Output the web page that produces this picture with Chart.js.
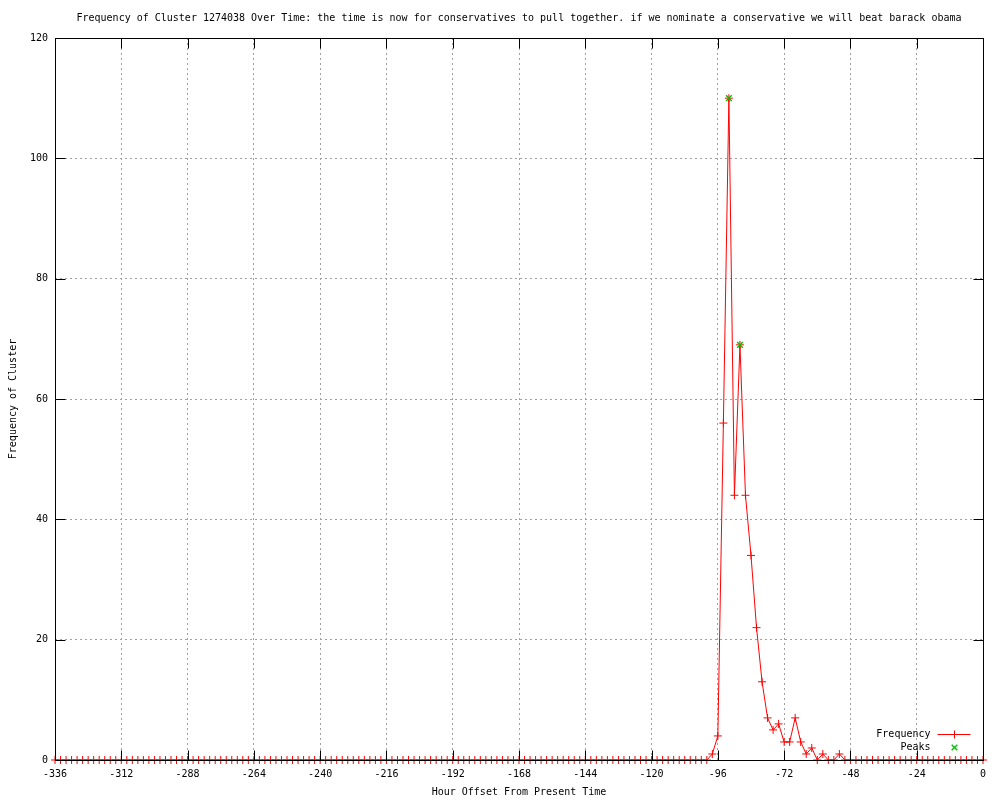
<!DOCTYPE html>
<html><head><meta charset="utf-8">
<script src="https://cdn.jsdelivr.net/npm/chart.js@4/dist/chart.umd.min.js"></script>
<style>html,body{margin:0;padding:0;background:#fff}#wrap{width:1000px;height:800px}</style>
</head><body><div id="wrap"><canvas id="c" width="1000" height="800"></canvas></div>
<script>
const chartTitle = "Frequency of Cluster 1274038 Over Time: the time is now for conservatives to pull together. if we nominate a conservative we will beat barack obama";
const xAxisTitle = "Hour Offset From Present Time";
const yAxisTitle = "Frequency of Cluster";

const hours = [
  -336,-334,-332,-330,-328,-326,-324,-322,-320,-318,-316,-314,
  -312,-310,-308,-306,-304,-302,-300,-298,-296,-294,-292,-290,
  -288,-286,-284,-282,-280,-278,-276,-274,-272,-270,-268,-266,
  -264,-262,-260,-258,-256,-254,-252,-250,-248,-246,-244,-242,
  -240,-238,-236,-234,-232,-230,-228,-226,-224,-222,-220,-218,
  -216,-214,-212,-210,-208,-206,-204,-202,-200,-198,-196,-194,
  -192,-190,-188,-186,-184,-182,-180,-178,-176,-174,-172,-170,
  -168,-166,-164,-162,-160,-158,-156,-154,-152,-150,-148,-146,
  -144,-142,-140,-138,-136,-134,-132,-130,-128,-126,-124,-122,
  -120,-118,-116,-114,-112,-110,-108,-106,-104,-102,-100,-98,
  -96,-94,-92,-90,-88,-86,-84,-82,-80,-78,-76,-74,
  -72,-70,-68,-66,-64,-62,-60,-58,-56,-54,-52,-50,
  -48,-46,-44,-42,-40,-38,-36,-34,-32,-30,-28,-26,
  -24,-22,-20,-18,-16,-14,-12,-10,-8,-6,-4,-2,
  0
];
const frequency = [
  0,0,0,0,0,0,0,0,0,0,0,0,
  0,0,0,0,0,0,0,0,0,0,0,0,
  0,0,0,0,0,0,0,0,0,0,0,0,
  0,0,0,0,0,0,0,0,0,0,0,0,
  0,0,0,0,0,0,0,0,0,0,0,0,
  0,0,0,0,0,0,0,0,0,0,0,0,
  0,0,0,0,0,0,0,0,0,0,0,0,
  0,0,0,0,0,0,0,0,0,0,0,0,
  0,0,0,0,0,0,0,0,0,0,0,0,
  0,0,0,0,0,0,0,0,0,0,0,1,
  4,56,110,44,69,44,34,22,13,7,5,6,
  3,3,7,3,1,2,0,1,0,0,1,0,
  0,0,0,0,0,0,0,0,0,0,0,0,
  0,0,0,0,0,0,0,0,0,0,0,0,
  0
];
const peakHours = [-92, -88];
const peakValues = [110, 69];
const xTickValues = [-336,-312,-288,-264,-240,-216,-192,-168,-144,-120,-96,-72,-48,-24,0];
const yTickValues = [0,20,40,60,80,100,120];

const RED = '#ff0000', GREEN = '#00c000';
const FONT = "'DejaVu Sans Mono', 'Liberation Mono', monospace";
Chart.defaults.font.family = FONT;
Chart.defaults.font.size = 10;
Chart.defaults.color = '#000';

const framePlugin = {
  id: 'frame',
  afterDatasetsDraw(chart) {
    const {ctx, chartArea: a, scales: {x, y}} = chart;
    const TL = 10;
    ctx.save();
    ctx.strokeStyle = '#000';
    ctx.lineWidth = 1;
    const L = Math.round(a.left) + 0.5, R = Math.round(a.right) + 0.5;
    const T = Math.round(a.top) + 0.5, B = Math.round(a.bottom) + 0.5;
    ctx.beginPath();
    ctx.rect(L, T, R - L, B - T);
    for (const v of xTickValues) {
      const px = Math.round(x.getPixelForValue(v)) + 0.5;
      ctx.moveTo(px, B); ctx.lineTo(px, B - TL);
      ctx.moveTo(px, T); ctx.lineTo(px, T + TL);
    }
    for (const v of yTickValues) {
      const py = Math.round(y.getPixelForValue(v)) + 0.5;
      ctx.moveTo(L, py); ctx.lineTo(L + TL, py);
      ctx.moveTo(R, py); ctx.lineTo(R - TL, py);
    }
    ctx.stroke();

    // title
    ctx.font = '10px ' + FONT;
    ctx.fillStyle = '#000';
    ctx.textAlign = 'center';
    ctx.textBaseline = 'middle';
    ctx.fillText(chartTitle, (a.left + a.right) / 2, 18);

    // legend (inside, bottom right)
    const ds = chart.data.datasets;
    const tx = R - 53, sx0 = R - 46, sx1 = R - 13, mx = R - 30;
    const rows = [B - 27, B - 14];
    ctx.textAlign = 'right';
    ds.forEach((d, i) => {
      const yy = rows[i];
      ctx.fillStyle = '#000';
      ctx.fillText(d.label, tx, yy + 0.5);
      ctx.strokeStyle = d.borderColor;
      ctx.lineWidth = 1;
      if (d.showLine !== false) {
        ctx.beginPath();
        ctx.moveTo(sx0, Math.round(yy) + 0.5); ctx.lineTo(sx1, Math.round(yy) + 0.5);
        ctx.stroke();
      }
      ctx.strokeStyle = d.pointBorderColor;
      ctx.fillStyle = d.pointBorderColor;
      ctx.lineWidth = d.pointBorderWidth;
      Chart.helpers.drawPoint(ctx, {pointStyle: d.pointStyle, radius: d.pointRadius, borderWidth: d.pointBorderWidth, rotation: 0}, Math.round(mx) + 0.5, Math.round(yy) + 0.5);
    });
    ctx.restore();
  }
};

new Chart(document.getElementById('c'), {
  type: 'line',
  data: {
    datasets: [
      {
        label: 'Frequency',
        data: hours.map((h, i) => ({x: h, y: frequency[i]})),
        borderColor: RED,
        backgroundColor: RED,
        borderWidth: 1,
        pointStyle: 'cross',
        pointRadius: 4,
        pointBorderColor: RED,
        pointBorderWidth: 1,
        tension: 0,
        fill: false,
        clip: 8,
        order: 2
      },
      {
        label: 'Peaks',
        data: peakHours.map((h, i) => ({x: h, y: peakValues[i]})),
        borderColor: GREEN,
        backgroundColor: GREEN,
        showLine: false,
        pointStyle: 'crossRot',
        pointRadius: 4,
        pointBorderColor: GREEN,
        pointBorderWidth: 1.4,
        clip: 8,
        order: 1
      }
    ]
  },
  options: {
    responsive: false,
    animation: false,
    devicePixelRatio: 1,
    layout: {padding: {top: 38, right: 17, left: 0, bottom: 0}},
    plugins: {legend: {display: false}, tooltip: {enabled: false}, title: {display: false}},
    scales: {
      x: {
        type: 'linear',
        min: -336, max: 0,
        afterFit(s) { s.height = 40; },
        afterBuildTicks(s) { s.ticks = xTickValues.map(v => ({value: v})); },
        ticks: {padding: 8, maxRotation: 0, autoSkip: false, font: {size: 10, family: FONT}, color: '#000'},
        grid: {color: '#a0a0a0', lineWidth: 1, drawTicks: false, tickLength: 0},
        border: {display: false, dash: [2, 3]},
        title: {display: true, text: xAxisTitle, padding: {top: 0, bottom: 2}, font: {size: 10, family: FONT}, color: '#000'}
      },
      y: {
        type: 'linear',
        min: 0, max: 120,
        afterFit(s) { s.width = 55; },
        afterBuildTicks(s) { s.ticks = yTickValues.map(v => ({value: v})); },
        ticks: {padding: 7, font: {size: 10, family: FONT}, color: '#000'},
        grid: {color: '#a0a0a0', lineWidth: 1, drawTicks: false, tickLength: 0},
        border: {display: false, dash: [2, 3]},
        title: {display: true, text: yAxisTitle, padding: {top: 7, bottom: 0}, font: {size: 10, family: FONT}, color: '#000'}
      }
    }
  },
  plugins: [framePlugin]
});
</script>
</body></html>
